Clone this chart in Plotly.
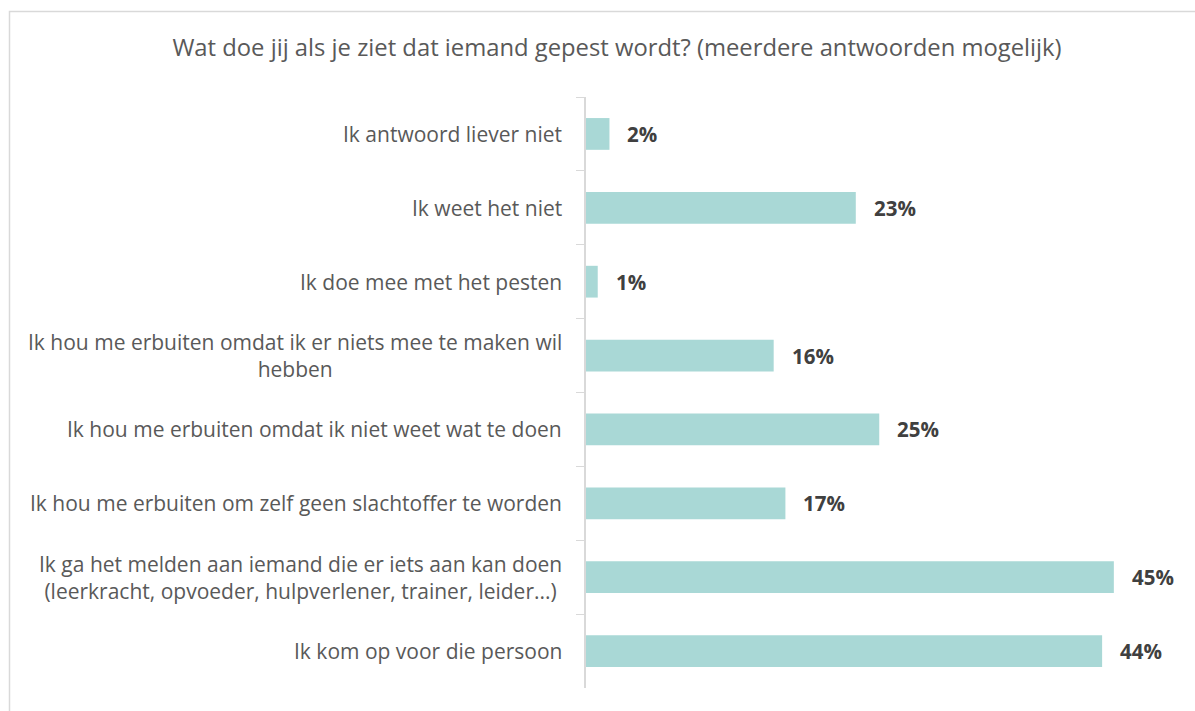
import plotly.graph_objects as go

title_text = "Wat doe jij als je ziet dat iemand gepest wordt? (meerdere antwoorden mogelijk)"
categories = [
    "Ik antwoord liever niet",
    "Ik weet het niet",
    "Ik doe mee met het pesten",
    "Ik hou me erbuiten omdat ik er niets mee te maken wil<br>hebben",
    "Ik hou me erbuiten omdat ik niet weet wat te doen",
    "Ik hou me erbuiten om zelf geen slachtoffer te worden",
    "Ik ga het melden aan iemand die er iets aan kan doen<br>(leerkracht, opvoeder, hulpverlener, trainer, leider...)",
    "Ik kom op voor die persoon",
]
values = [2, 23, 1, 16, 25, 17, 45, 44]
value_labels = ["2%", "23%", "1%", "16%", "25%", "17%", "45%", "44%"]

W, H = 1195, 711
L, R, T, B = 586, 15, 97, 23
pw, ph = W - L - R, H - T - B
FONT = "Open Sans"

fig = go.Figure(go.Bar(
    y=categories, x=values, orientation="h",
    marker=dict(color="#A9D8D6", line=dict(width=0)),
    width=0.43, hoverinfo="skip",
))

annotations = []
for c, v, t in zip(categories, values, value_labels):
    annotations.append(dict(x=v, y=c, xref="x", yref="y", text="<b>%s</b>" % t,
                            showarrow=False, xanchor="left", xshift=16,
                            font=dict(family=FONT, size=20.5, color="#404040")))
    annotations.append(dict(x=0, y=c, xref="paper", yref="y", text=c,
                            showarrow=False, xanchor="right", xshift=-22, align="center",
                            font=dict(family=FONT, size=21, color="#595959")))

# chart border
x0 = (9.5 - L) / pw
x1 = (W + 20 - L) / pw
y1 = (H - B - 11.5) / ph
y0 = (H - B - (H + 20)) / ph

fig.update_layout(
    width=W, height=H,
    margin=dict(l=L, r=R, t=T, b=B),
    paper_bgcolor="white", plot_bgcolor="white",
    title=dict(text=title_text, x=617 / W, xref="container", xanchor="center",
               y=1 - 48 / H, yref="container", yanchor="middle",
               font=dict(family=FONT, size=23.8, color="#595959")),
    xaxis=dict(range=[0, pw / 11.73], visible=False, fixedrange=True),
    yaxis=dict(autorange="reversed", showticklabels=False, ticks="outside",
               tickson="boundaries", ticklen=8, tickcolor="#D9D9D9",
               showline=True, linecolor="#D9D9D9", linewidth=1.5,
               showgrid=False, zeroline=False, fixedrange=True),
    annotations=annotations,
    shapes=[dict(type="rect", xref="paper", yref="paper", x0=x0, x1=x1, y0=y0, y1=y1,
                 line=dict(color="#D9D9D9", width=1.5), fillcolor="rgba(0,0,0,0)", layer="below")],
    showlegend=False,
)

fig.write_html("out.html", config={"displayModeBar": False},
               post_script="document.body.style.margin='0';document.body.style.overflow='hidden';")
